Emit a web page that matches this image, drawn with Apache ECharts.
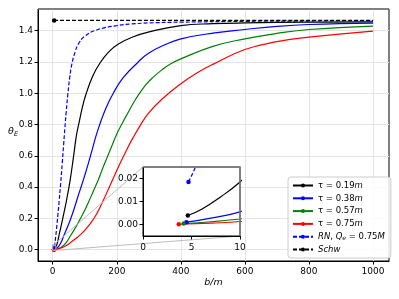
<!DOCTYPE html>
<html><head><meta charset="utf-8">
<script src="https://cdn.jsdelivr.net/npm/echarts@6/dist/echarts.min.js"></script>
<style>html,body{margin:0;padding:0;background:#fff}#c{width:399px;height:299px}</style>
</head><body><div id="c"></div>
<script>
const seriesNames = ['τ = 0.19m','τ = 0.38m','τ = 0.57m','τ = 0.75m','RN, Qe = 0.75M','Schw'];

const tau019B     = [4.62, 6, 8, 10, 12, 14, 16, 18, 20, 25, 33, 44, 54, 64, 74, 82, 92, 104, 125, 148, 175, 205, 250, 298, 400, 500, 600, 800, 1000];
const tau019Theta = [0.0039, 0.0065, 0.012, 0.0185, 0.027, 0.039, 0.055, 0.075, 0.095, 0.14, 0.215, 0.325, 0.44, 0.58, 0.73, 0.81, 0.905, 0.995, 1.11, 1.195, 1.265, 1.315, 1.36, 1.391, 1.433, 1.445, 1.45, 1.455, 1.457];

const tau038B     = [4.48, 7, 10, 15, 20, 27, 33, 42, 53, 65, 78, 90, 100, 111, 122, 132, 145, 165, 189, 220, 267, 298, 350, 400, 500, 600, 700, 800, 1000];
const tau038Theta = [0.001, 0.0028, 0.0055, 0.013, 0.025, 0.05, 0.08, 0.125, 0.18, 0.25, 0.335, 0.41, 0.475, 0.55, 0.63, 0.705, 0.79, 0.9, 1.0, 1.1, 1.2, 1.255, 1.31, 1.348, 1.385, 1.408, 1.428, 1.44, 1.449];

const tau057B     = [4.2, 7, 10, 15, 20, 30, 42, 56, 75, 96, 111, 126, 142, 158, 180, 200, 215, 235, 257, 289, 315, 340, 370, 400, 500, 600, 700, 800, 1000];
const tau057Theta = [0.0004, 0.0012, 0.0024, 0.005, 0.009, 0.02, 0.045, 0.09, 0.155, 0.235, 0.3, 0.37, 0.445, 0.53, 0.64, 0.74, 0.8, 0.875, 0.955, 1.05, 1.105, 1.148, 1.19, 1.22, 1.3, 1.348, 1.383, 1.408, 1.43];

const tau075B     = [3.69, 7, 10, 20, 35, 50, 70, 90, 115, 137, 158, 179, 210, 235, 254, 272, 298, 340, 400, 450, 500, 600, 700, 800, 1000];
const tau075Theta = [0.0001, 0.0006, 0.0013, 0.006, 0.018, 0.036, 0.068, 0.102, 0.16, 0.228, 0.315, 0.41, 0.55, 0.655, 0.727, 0.79, 0.87, 0.96, 1.061, 1.13, 1.185, 1.28, 1.33, 1.359, 1.397];

const rnB     = [4.69, 5.41, 6.5, 8, 10, 12, 16, 20, 25, 30, 34, 38, 42, 47, 53, 60, 70, 80, 100, 137, 200, 245, 300, 400, 600, 800, 1000];
const rnTheta = [0.0185, 0.025, 0.037, 0.06, 0.095, 0.135, 0.22, 0.31, 0.43, 0.56, 0.67, 0.78, 0.88, 0.99, 1.1, 1.19, 1.265, 1.315, 1.365, 1.405, 1.433, 1.443, 1.45, 1.455, 1.46, 1.462, 1.463];

const schwB     = [4.4, 1000];
const schwTheta = [1.466, 1.466];

const xTicks = [0, 200, 400, 600, 800, 1000];
const yTicks = [0, 0.2, 0.4, 0.6, 0.8, 1.0, 1.2, 1.4];
const insetXTicks = [0, 5, 10];
const insetYTicks = [0, 0.01, 0.02];

const legendLabels = {
  'τ = 0.19m': '{a|τ = 0.19}{i|m}',
  'τ = 0.38m': '{a|τ = 0.38}{i|m}',
  'τ = 0.57m': '{a|τ = 0.57}{i|m}',
  'τ = 0.75m': '{a|τ = 0.75}{i|m}',
  'RN, Qe = 0.75M': '{i|RN}{a|, }{i|Q}{s|e}{a| = 0.75}{i|M}',
  'Schw': '{i|Schw}'
};

const FONT = 'DejaVu Sans';
const colors = ['#000000', '#0000ff', '#008000', '#ff0000', '#0000ff', '#000000'];
const dashes = ['solid', 'solid', 'solid', 'solid', [4, 2], [4, 2]];
const bArrays = [tau019B, tau038B, tau057B, tau075B, rnB, schwB];
const tArrays = [tau019Theta, tau038Theta, tau057Theta, tau075Theta, rnTheta, schwTheta];

function points(bs, ts) {
  return bs.map((b, i) => i === 0
    ? { value: [b, ts[i]], symbol: 'circle', symbolSize: 4.5 }
    : { value: [b, ts[i]], symbol: 'none' });
}

const series = [];
seriesNames.forEach((name, k) => {
  const mk = (xi, z) => ({
    name, type: 'line', xAxisIndex: xi, yAxisIndex: xi, z,
    data: points(bArrays[k], tArrays[k]),
    symbol: 'circle', symbolSize: 4.5, showSymbol: true,
    smooth: 0.45, clip: true,
    lineStyle: { color: colors[k], width: 1.2, type: dashes[k] },
    itemStyle: { color: colors[k] },
    emphasis: { disabled: true }, silent: true
  });
  series.push(mk(0, 2));
  if (k < 5) series.push(mk(1, 12));
});

const tickLbl = { fontSize: 9, color: '#000', fontFamily: FONT };

const option = {
  animation: false,
  backgroundColor: '#fff',
  grid: [
    { left: 38, right: 10, top: 9, bottom: 38, show: true, borderColor: '#000', borderWidth: 1, backgroundColor: 'transparent', z: 0 },
    { left: 143, top: 167, width: 97, height: 69, show: true, borderColor: '#000', borderWidth: 1, backgroundColor: '#fff', z: 10 }
  ],
  xAxis: [
    { type: 'value', gridIndex: 0, min: -46, max: 1050,
      axisLine: { show: true, onZero: false, lineStyle: { color: '#000', width: 1 } },
      axisTick: { show: true, length: 3.5, customValues: xTicks, lineStyle: { color: '#000' } },
      axisLabel: Object.assign({ customValues: xTicks, margin: 6.5, formatter: v => String(v) }, tickLbl),
      splitLine: { show: true, lineStyle: { color: '#e4e4e4', width: 1 } },
      name: 'b/m', nameLocation: 'middle', nameGap: 16.5, nameMoveOverlap: false,
      nameTextStyle: { fontStyle: 'italic', fontSize: 9.5, color: '#000', fontFamily: FONT } },
    { type: 'value', gridIndex: 1, min: 0, max: 10, z: 11,
      axisLine: { show: true, onZero: false, lineStyle: { color: '#000', width: 1 } },
      axisTick: { show: true, length: 3.5, customValues: insetXTicks, lineStyle: { color: '#000' } },
      axisLabel: Object.assign({ customValues: insetXTicks, margin: 7, formatter: v => String(v) }, tickLbl),
      splitLine: { show: false } }
  ],
  yAxis: [
    { type: 'value', gridIndex: 0, min: -0.073, max: 1.539,
      axisLine: { show: true, onZero: false, lineStyle: { color: '#000', width: 1 } },
      axisTick: { show: true, length: 3.5, customValues: yTicks, lineStyle: { color: '#000' } },
      axisLabel: Object.assign({ customValues: yTicks, margin: 5, formatter: v => v.toFixed(1) }, tickLbl),
      splitLine: { show: true, lineStyle: { color: '#e4e4e4', width: 1 } },
      name: '{t|θ}{s|E}', nameLocation: 'middle', nameRotate: 0, nameGap: 20, nameMoveOverlap: false,
      nameTextStyle: { padding: [0, 0, 6, 0], rich: {
        t: { fontSize: 9.5, fontStyle: 'italic', color: '#000', fontFamily: FONT },
        s: { fontSize: 6.5, fontStyle: 'italic', color: '#000', fontFamily: FONT, padding: [5, 0, 0, 0] } } } },
    { type: 'value', gridIndex: 1, min: -0.005, max: 0.025, z: 11,
      axisLine: { show: true, onZero: false, lineStyle: { color: '#000', width: 1 } },
      axisTick: { show: true, length: 3.5, customValues: insetYTicks, lineStyle: { color: '#000' } },
      axisLabel: Object.assign({ customValues: insetYTicks, margin: 5, formatter: v => v.toFixed(2) }, tickLbl),
      splitLine: { show: false } }
  ],
  legend: {
    show: true, orient: 'vertical', left: 288, top: 177,
    padding: [3, 6, 3, 4], itemWidth: 20, itemHeight: 5, itemGap: 1.8,
    backgroundColor: 'rgba(255,255,255,0.85)', borderColor: '#cccccc', borderWidth: 1, borderRadius: 3,
    data: seriesNames, selectedMode: false, z: 20,
    formatter: n => legendLabels[n],
    textStyle: { fontSize: 8.5, lineHeight: 11, fontFamily: FONT, color: '#000',
      rich: {
        a: { fontSize: 8.5, lineHeight: 11, fontFamily: FONT, color: '#000' },
        i: { fontSize: 8.5, lineHeight: 11, fontStyle: 'italic', fontFamily: FONT, color: '#000' },
        s: { fontSize: 6, lineHeight: 11, fontStyle: 'italic', fontFamily: FONT, color: '#000', padding: [4, 0, 0, 0] }
      } }
  },
  series
};

const chart = echarts.init(document.getElementById('c'), null, { renderer: 'canvas' });
chart.setOption(option);

const mainF = { xAxisIndex: 0, yAxisIndex: 0 };
const insF = { xAxisIndex: 1, yAxisIndex: 1 };
const mTL = chart.convertToPixel(mainF, [insetXTicks[0], 0.025]);
const mBR = chart.convertToPixel(mainF, [insetXTicks[2], -0.005]);
const iTL = chart.convertToPixel(insF, [insetXTicks[0], 0.025]);
const iBR = chart.convertToPixel(insF, [insetXTicks[2], -0.005]);
const gMain = chart.getModel().getComponent('grid', 0).coordinateSystem.getRect();
const gIns = chart.getModel().getComponent('grid', 1).coordinateSystem.getRect();
const edge = '#808080';
chart.setOption({ graphic: [
  { type: 'line', z: 5, silent: true, shape: { x1: mTL[0], y1: mTL[1], x2: iTL[0], y2: iTL[1] }, style: { stroke: '#bdbdbd', lineWidth: 1 } },
  { type: 'line', z: 5, silent: true, shape: { x1: mBR[0], y1: mBR[1], x2: iBR[0], y2: iBR[1] }, style: { stroke: '#bdbdbd', lineWidth: 1 } },
  { type: 'rect', z: 5, silent: true, shape: { x: mTL[0], y: mTL[1], width: mBR[0] - mTL[0], height: mBR[1] - mTL[1] }, style: { stroke: '#bdbdbd', fill: 'none', lineWidth: 1 } },
  { type: 'line', z: 30, silent: true, shape: { x1: gMain.x, y1: gMain.y, x2: gMain.x + gMain.width, y2: gMain.y }, style: { stroke: edge, lineWidth: 1.6 } },
  { type: 'polyline', z: 30, silent: true, shape: { points: [[gIns.x, gIns.y], [gIns.x + gIns.width, gIns.y], [gIns.x + gIns.width, gIns.y + gIns.height]] }, style: { stroke: edge, lineWidth: 1.6, fill: null } }
] });
</script></body></html>
